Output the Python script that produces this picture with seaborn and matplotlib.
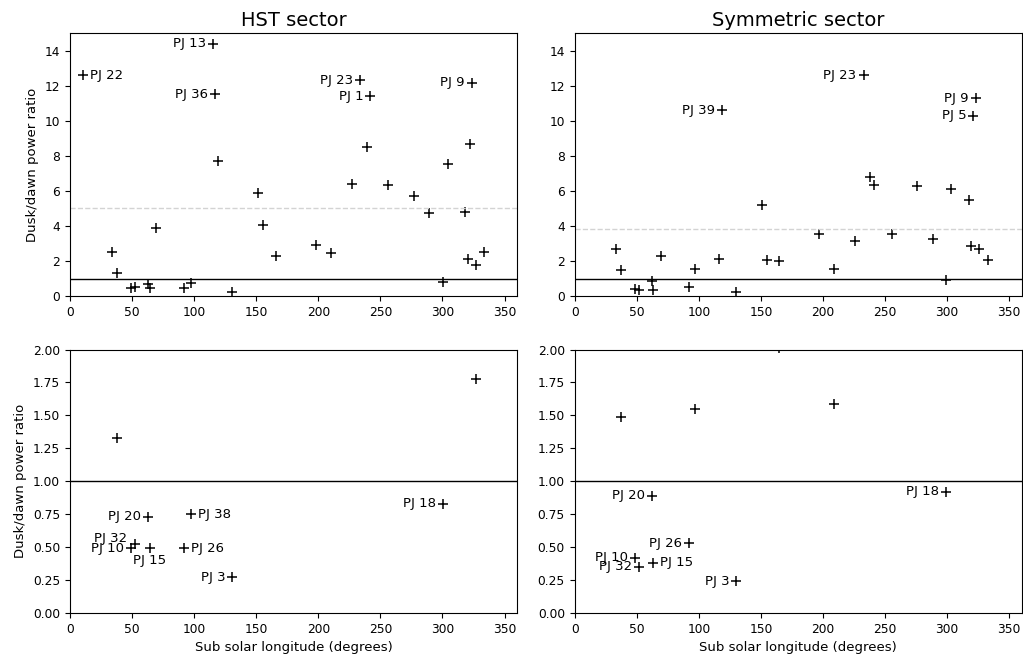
import numpy as np
import matplotlib
matplotlib.use("Agg")
import matplotlib.pyplot as plt
import seaborn as sns

# HST sector: sub solar longitude (deg), dusk/dawn power ratio, perijove label
hst_lon = [10.5, 34.1, 37.6, 48.8, 52.6, 63.1, 64.1, 69.5, 92.1, 97.7,
           114.9, 117.0, 119.4, 130.7, 151.4, 155.7, 165.6, 197.8, 209.9, 227.1,
           233.5, 238.9, 241.8, 256.0, 276.7, 289.0, 300.1, 304.1, 318.0, 320.4,
           321.8, 323.7, 326.9, 333.3]
hst_ratio = [12.58, 2.55, 1.33, 0.49, 0.52, 0.73, 0.49, 3.92, 0.49, 0.75,
             14.38, 11.50, 7.72, 0.27, 5.88, 4.07, 2.31, 2.93, 2.48, 6.41,
             12.32, 8.53, 11.41, 6.34, 5.73, 4.77, 0.83, 7.55, 4.82, 2.16,
             8.66, 12.18, 1.78, 2.55]
hst_label = ["PJ 22", "", "", "PJ 10", "PJ 32", "PJ 20", "PJ 15", "", "PJ 26", "PJ 38",
             "PJ 13", "PJ 36", "", "PJ 3", "", "", "", "", "", "",
             "PJ 23", "", "PJ 1", "", "", "", "PJ 18", "", "", "",
             "", "PJ 9", "", ""]
hst_dashed = 5.05

# Symmetric sector
sym_lon = [33.3, 37.0, 48.3, 51.8, 62.5, 63.3, 69.2, 91.8, 97.2, 115.9,
           118.6, 130.2, 150.8, 155.1, 164.8, 197.0, 208.8, 226.0, 232.7, 237.5,
           241.3, 255.2, 275.6, 288.2, 299.2, 303.3, 317.5, 319.1, 321.0, 323.1,
           325.8, 332.5]
sym_ratio = [2.71, 1.49, 0.42, 0.35, 0.89, 0.38, 2.31, 0.53, 1.55, 2.16,
             10.59, 0.24, 5.20, 2.06, 2.01, 3.54, 1.59, 3.16, 12.58, 6.81,
             6.36, 3.54, 6.26, 3.29, 0.92, 6.11, 5.50, 2.86, 10.29, 11.27,
             2.71, 2.06]
sym_label = ["", "", "PJ 10", "PJ 32", "PJ 20", "PJ 15", "", "PJ 26", "", "",
             "PJ 39", "PJ 3", "", "", "", "", "", "", "PJ 23", "",
             "", "", "", "", "PJ 18", "", "", "", "PJ 5", "PJ 9",
             "", ""]
sym_dashed = 3.84

# label placement: (dx px, dy px, ha); default is left of the point
hst_top_pos = {"PJ 22": (7, 0, "left")}
hst_bot_pos = {"PJ 38": (7, 0, "left"), "PJ 26": (7, 0, "left"),
               "PJ 32": (-8, 6, "right"), "PJ 15": (0, -12, "center")}
sym_top_pos = {}
sym_bot_pos = {"PJ 15": (7, 0, "left")}

fig, axes = plt.subplots(2, 2, figsize=(10.23, 6.57), dpi=100)
fig.subplots_adjust(left=0.0684, right=0.9987, top=0.9498, bottom=0.067,
                    wspace=0.129, hspace=0.2015)


def panel(ax, lon, ratio, labels, ylim, keep, pos, dashed=None):
    sns.scatterplot(x=lon, y=ratio, marker="+", color="k", s=60, linewidth=1.1,
                    ax=ax, legend=False)
    ax.axhline(1, color="k", lw=1)
    if dashed is not None:
        ax.axhline(dashed, color="lightgrey", ls="--", lw=1)
    for x, y, lab in zip(lon, ratio, labels):
        if lab and keep(y):
            dx, dy, ha = pos.get(lab, (-7, 0, "right"))
            ax.annotate(lab, (x, y), xytext=(dx, dy), textcoords="offset pixels",
                        ha=ha, va="center", fontsize=9.5)
    ax.set_xlim(0, 360)
    ax.set_ylim(*ylim)
    ax.tick_params(labelsize=8.8)


panel(axes[0, 0], hst_lon, hst_ratio, hst_label, (0, 15), lambda y: y > 10,
      hst_top_pos, hst_dashed)
panel(axes[0, 1], sym_lon, sym_ratio, sym_label, (0, 15), lambda y: y > 10,
      sym_top_pos, sym_dashed)
panel(axes[1, 0], hst_lon, hst_ratio, hst_label, (0, 2), lambda y: y < 1,
      hst_bot_pos)
panel(axes[1, 1], sym_lon, sym_ratio, sym_label, (0, 2), lambda y: y < 1,
      sym_bot_pos)

for ax in axes[0]:
    ax.set_yticks(np.arange(0, 15, 2))
axes[0, 0].set_title("HST sector", fontsize=14, pad=5)
axes[0, 1].set_title("Symmetric sector", fontsize=14, pad=5)
axes[0, 0].set_ylabel("Dusk/dawn power ratio", fontsize=9.5)
axes[1, 0].set_ylabel("Dusk/dawn power ratio", fontsize=9.5)
axes[1, 0].set_xlabel("Sub solar longitude (degrees)", fontsize=9.5)
axes[1, 1].set_xlabel("Sub solar longitude (degrees)", fontsize=9.5)

fig.savefig("out.png", dpi=100)
